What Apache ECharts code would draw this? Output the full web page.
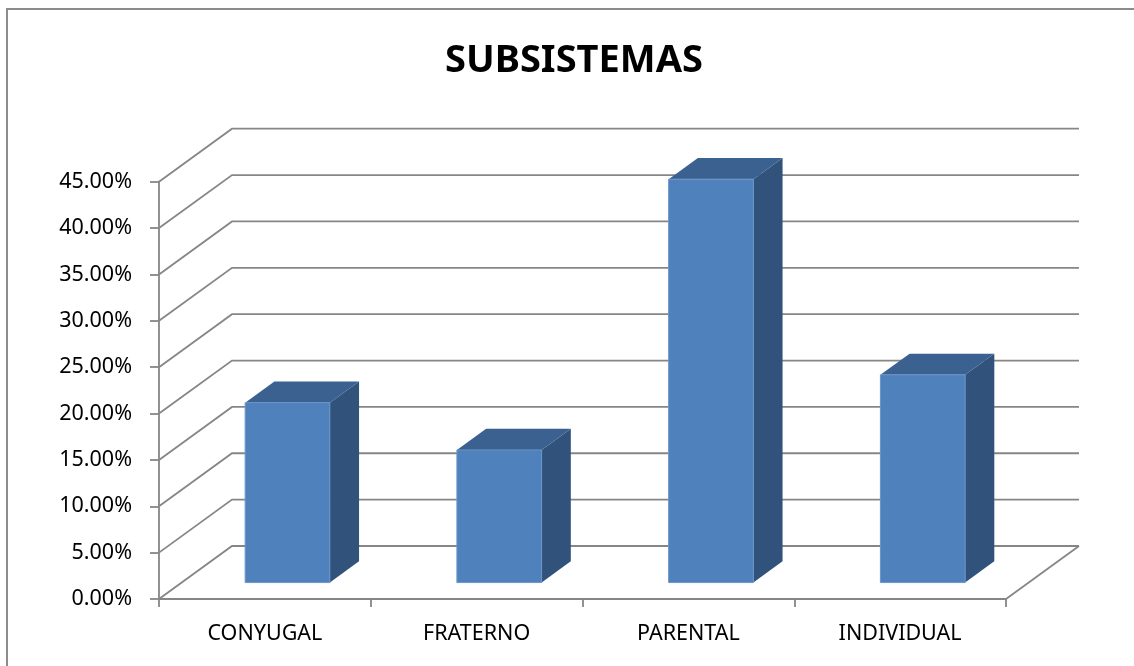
<!DOCTYPE html>
<html>
<head>
<meta charset="utf-8">
<script src="https://cdn.jsdelivr.net/npm/echarts@6/dist/echarts.min.js"></script>
<style>
html,body{margin:0;padding:0;background:#fff;}
#c{width:1134px;height:666px;}
</style>
</head>
<body>
<div id="c"></div>
<script>
const categories = ['CONYUGAL', 'FRATERNO', 'PARENTAL', 'INDIVIDUAL'];
const values = [19.4, 14.3, 43.5, 22.4];
const yTicks = [0, 5, 10, 15, 20, 25, 30, 35, 40, 45];

const DX = 73, DY = -53;          // depth of the 3D floor
const BAR_FRONT = 0.31, BAR_DEPTH = 0.4, BAR_W = 0.4;
const GRID_COLOR = '#868686';
const LW = 1.8;
const FONT = 'Noto Sans';

const chart = echarts.init(document.getElementById('c'), null, {renderer: 'canvas'});

const option = {
  backgroundColor: '#fff',
  animation: false,
  title: {
    text: 'SUBSISTEMAS',
    left: 440,
    top: 33,
    textStyle: {fontFamily: FONT, fontWeight: 'bold', fontSize: 38, color: '#000', lineHeight: 46}
  },
  graphic: [{
    type: 'rect',
    shape: {x: 7, y: 9, width: 1140, height: 700},
    style: {fill: 'none', stroke: '#8c8c8c', lineWidth: 2},
    silent: true
  }],
  grid: {left: 159, right: 128, top: 181.7, bottom: 67, containLabel: false},
  xAxis: {
    type: 'category',
    data: categories,
    boundaryGap: true,
    axisLine: {show: true, lineStyle: {color: GRID_COLOR, width: LW}},
    axisTick: {show: true, length: 8, alignWithLabel: false, lineStyle: {color: GRID_COLOR, width: LW}},
    axisLabel: {margin: 24, fontFamily: FONT, fontSize: 21.5, color: '#000'},
    splitLine: {show: false}
  },
  yAxis: {
    type: 'value',
    min: 0, max: 45, interval: 5,
    axisLine: {show: true, lineStyle: {color: GRID_COLOR, width: LW}},
    axisTick: {show: true, length: 9, lineStyle: {color: GRID_COLOR, width: LW}},
    axisLabel: {margin: 27, fontFamily: FONT, fontSize: 21.5, color: '#000',
      formatter: v => v.toFixed(2) + '%'},
    splitLine: {show: false}
  },
  series: [
    {
      type: 'custom',
      name: 'walls',
      clip: false,
      z: 1,
      silent: true,
      data: yTicks.map(v => [0, v]),
      renderItem: function (params, api) {
        const cs = params.coordSys;
        const p = api.coord([0, api.value(1)]);
        const left = cs.x, right = cs.x + cs.width, y = p[1];
        const children = [{
          type: 'polyline',
          shape: {points: [[left, y], [left + DX, y + DY], [right + DX, y + DY]]},
          style: {stroke: GRID_COLOR, lineWidth: LW, fill: null}
        }];
        if (api.value(1) === 0) {
          children.push({
            type: 'line',
            shape: {x1: right, y1: y, x2: right + DX, y2: y + DY},
            style: {stroke: GRID_COLOR, lineWidth: LW}
          });
        }
        return {type: 'group', children: children};
      }
    },
    {
      type: 'custom',
      name: 'bars',
      clip: false,
      z: 2,
      data: values.map((v, i) => [i, v]),
      renderItem: function (params, api) {
        const cat = api.value(0), val = api.value(1);
        const base = api.coord([cat, 0]);
        const top = api.coord([cat, val]);
        const w = api.size([1, 0])[0] * BAR_W;
        const ox = DX * BAR_FRONT, oy = DY * BAR_FRONT;
        const dx = DX * BAR_DEPTH, dy = DY * BAR_DEPTH;
        const x0 = base[0] + ox - w / 2, x1 = x0 + w;
        const yb = base[1] + oy, yt = top[1] + oy;
        return {
          type: 'group',
          children: [
            {type: 'polygon', shape: {points: [[x1, yt], [x1 + dx, yt + dy], [x1 + dx, yb + dy], [x1, yb]]},
              style: {fill: '#31527b'}},
            {type: 'polygon', shape: {points: [[x0, yt], [x0 + dx, yt + dy], [x1 + dx, yt + dy], [x1, yt]]},
              style: {fill: '#3b6190'}},
            {type: 'rect', shape: {x: x0, y: yt, width: w, height: yb - yt},
              style: {fill: '#4f81bd', stroke: '#6a95c9', lineWidth: 1}}
          ]
        };
      }
    }
  ]
};
chart.setOption(option);
</script>
</body>
</html>
